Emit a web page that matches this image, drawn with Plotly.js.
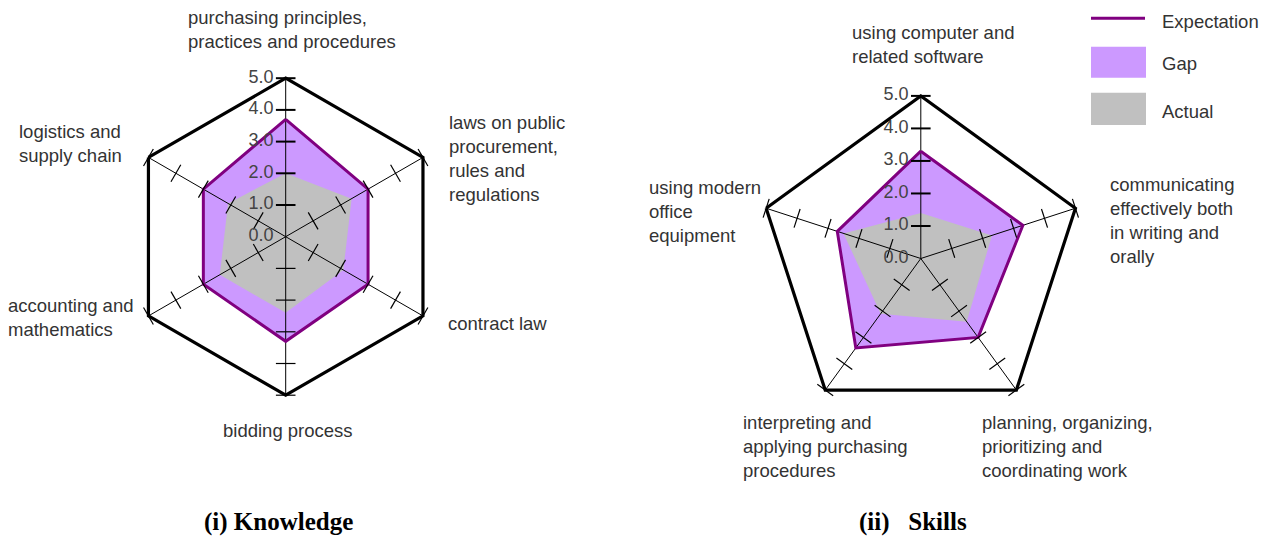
<!DOCTYPE html>
<html>
<head>
<meta charset="utf-8">
<script src="https://cdn.plot.ly/plotly-3.0.1.min.js"></script>
<style>html,body{margin:0;padding:0;background:#fff;}#chart{width:1271px;height:537px;}</style>
</head>
<body>
<div id="chart"></div>
<script>
// ---- data ----
const knowledgeCategories = [
  "purchasing principles,<br>practices and procedures",
  "laws on public<br>procurement,<br>rules and<br>regulations",
  "contract law",
  "bidding process",
  "accounting and<br>mathematics",
  "logistics and<br>supply chain"
];
const knowledgeExpectation = [3.7, 3.0, 3.0, 3.3, 3.0, 3.0];
const knowledgeActual = [2.0, 2.4, 2.1, 2.4, 2.4, 2.1];

const skillsCategories = [
  "using computer and<br>related software",
  "communicating<br>effectively both<br>in writing and<br>orally",
  "planning, organizing,<br>prioritizing and<br>coordinating work",
  "interpreting and<br>applying purchasing<br>procedures",
  "using modern<br>office<br>equipment"
];
const skillsExpectation = [3.3, 3.3, 3.0, 3.4, 2.7];
const skillsActual = [1.4, 2.3, 2.4, 2.1, 2.5];

const radialTicks = [0, 1, 2, 3, 4, 5];
const radialTickLabels = ["0.0", "1.0", "2.0", "3.0", "4.0", "5.0"];
const legendNames = ["Expectation", "Gap", "Actual"];
const panelTitles = ["(i) Knowledge", "(ii)\u00a0\u00a0 Skills"];

// ---- styles ----
const W = 1271, H = 537;
const PURPLE = "#800080", GAP = "#cc99ff", GRAY = "#c0c0c0", TXT = "#333333";
const FONT = "Liberation Sans, Arial, sans-serif";
const FS = 18.5;
const px = x => x / W;
const py = y => 1 - y / H;

function close(a) { return a.concat([a[0]]); }

function radarTraces(cats, expv, actv, sub) {
  const n = cats.length;
  const rmax = radialTicks[radialTicks.length - 1];
  const t = [];
  // Gap (expectation area)
  t.push({type: "scatterpolar", subplot: sub, r: close(expv), theta: close(cats),
    mode: "lines", fill: "toself", fillcolor: GAP, line: {width: 0, color: GAP},
    hoverinfo: "skip", showlegend: false});
  // Actual
  t.push({type: "scatterpolar", subplot: sub, r: close(actv), theta: close(cats),
    mode: "lines", fill: "toself", fillcolor: GRAY, line: {width: 0, color: GRAY},
    hoverinfo: "skip", showlegend: false});
  // spokes
  const sr = [], st = [];
  cats.forEach(c => { sr.push(0, rmax, null); st.push(c, c, c); });
  t.push({type: "scatterpolar", subplot: sub, r: sr, theta: st, mode: "lines",
    line: {color: "#000", width: 1}, hoverinfo: "skip", showlegend: false, connectgaps: false});
  // Expectation line
  t.push({type: "scatterpolar", subplot: sub, r: close(expv), theta: close(cats),
    mode: "lines", line: {width: 3, color: PURPLE}, hoverinfo: "skip", showlegend: false});
  // tick marks on the other spokes
  const tr = [], tt = [], ta = [];
  cats.forEach((c, i) => {
    if (i === 0) return;
    radialTicks.filter(v => v > 0).forEach(v => { tr.push(v); tt.push(c); ta.push(i * 360 / n); });
  });
  t.push({type: "scatterpolar", subplot: sub, r: tr, theta: tt, mode: "markers",
    marker: {symbol: "line-ew", size: 14, angle: ta, color: "#000", line: {color: "#000", width: 1.2}},
    hoverinfo: "skip", showlegend: false});
  // radial axis ticks (top spoke)
  const topTicks = radialTicks.filter(v => v > 0);
  t.push({type: "scatterpolar", subplot: sub, r: topTicks, theta: topTicks.map(() => cats[0]), mode: "markers",
    marker: {symbol: "line-ew", size: 14, color: "#000", line: {color: "#000", width: 2}},
    hoverinfo: "skip", showlegend: false, cliponaxis: false});
  // radial tick labels on the top spoke
  t.push({type: "scatterpolar", subplot: sub, r: radialTicks.map(v => Math.max(v, 1e-4)), theta: radialTicks.map(() => cats[0]),
    mode: "markers+text", text: radialTickLabels, textposition: "middle left",
    textfont: {family: FONT, size: 18, color: "#444"},
    marker: {symbol: "line-ew", size: 18, color: "rgba(0,0,0,0)", line: {color: "rgba(0,0,0,0)", width: 0}},
    hoverinfo: "skip", showlegend: false, cliponaxis: false});
  return t;
}

const data = []
  .concat(radarTraces(knowledgeCategories, knowledgeExpectation, knowledgeActual, "polar"))
  .concat(radarTraces(skillsCategories, skillsExpectation, skillsActual, "polar2"));

function polarLayout(dx, dy) {
  return {
    domain: {x: dx, y: dy},
    bgcolor: "rgba(0,0,0,0)",
    gridshape: "linear",
    radialaxis: {range: [0, 5], showgrid: false, showline: false, showticklabels: false, ticks: ""},
    angularaxis: {type: "category", rotation: 90, direction: "clockwise", showgrid: false,
      showticklabels: false, ticks: "", showline: true, linecolor: "#000", linewidth: 3.2}
  };
}

// chart 1: center (285.7,236.7) R 158.5 ; chart 2: center (920.8,258.5) R 162.6
const c1 = {cx: 285.7, cy: 236.7, R: 158.5};
const c2 = {cx: 920.8, cy: 258.5, R: 162.6};

const annotations = [];
function lab(text, x, y) {
  annotations.push({xref: "paper", yref: "paper", x: px(x), y: py(y), xanchor: "left", yanchor: "middle",
    text: text, showarrow: false, align: "left", font: {family: FONT, size: FS, color: TXT}, borderpad: 0});
}
// knowledge labels
const kPos = [[187, 29.5], [448, 158.5], [447, 323], [222, 430], [7, 317], [18, 143]];
knowledgeCategories.forEach((c, i) => lab(c, kPos[i][0], kPos[i][1]));
const sPos = [[851, 45], [1109, 221], [981, 446], [742, 446], [648, 211.5]];
skillsCategories.forEach((c, i) => lab(c, sPos[i][0], sPos[i][1]));

// titles
const tPos = [[203, 522], [858, 522]];
panelTitles.forEach((t, i) => annotations.push({xref: "paper", yref: "paper", x: px(tPos[i][0]), y: py(tPos[i][1]),
  xanchor: "left", yanchor: "middle", text: "<b>" + t + "</b>", showarrow: false, borderpad: 0,
  font: {family: "Liberation Serif, Times New Roman, serif", size: 25, color: "#000"}}));

// legend (manual)
const legY = [22, 64, 111];
legendNames.forEach((nm, i) => annotations.push({xref: "paper", yref: "paper", x: px(1161), y: py(legY[i]),
  xanchor: "left", yanchor: "middle", text: nm, showarrow: false,
  font: {family: FONT, size: FS, color: TXT}, borderpad: 0}));

const shapes = [
  {type: "line", xref: "paper", yref: "paper", x0: px(1091), x1: px(1145), y0: py(18.3), y1: py(18.3),
    line: {color: PURPLE, width: 3}},
  {type: "rect", xref: "paper", yref: "paper", x0: px(1091), x1: px(1146), y0: py(46.7), y1: py(77.7),
    fillcolor: GAP, line: {width: 0}},
  {type: "rect", xref: "paper", yref: "paper", x0: px(1091), x1: px(1146), y0: py(92.7), y1: py(125),
    fillcolor: GRAY, line: {width: 0}}
];

const layout = {
  width: W, height: H,
  margin: {l: 0, r: 0, t: 0, b: 0},
  paper_bgcolor: "#fff",
  showlegend: false,
  polar: polarLayout([px(c1.cx - c1.R), px(c1.cx + c1.R)], [1 - (c1.cy + c1.R) / H, 1 - (c1.cy - c1.R) / H]),
  polar2: polarLayout([px(c2.cx - c2.R), px(c2.cx + c2.R)], [1 - (c2.cy + c2.R) / H, 1 - (c2.cy - c2.R) / H]),
  annotations: annotations,
  shapes: shapes,
  font: {family: FONT, color: TXT}
};

Plotly.newPlot("chart", data, layout, {displayModeBar: false, staticPlot: true});
</script>
</body>
</html>
